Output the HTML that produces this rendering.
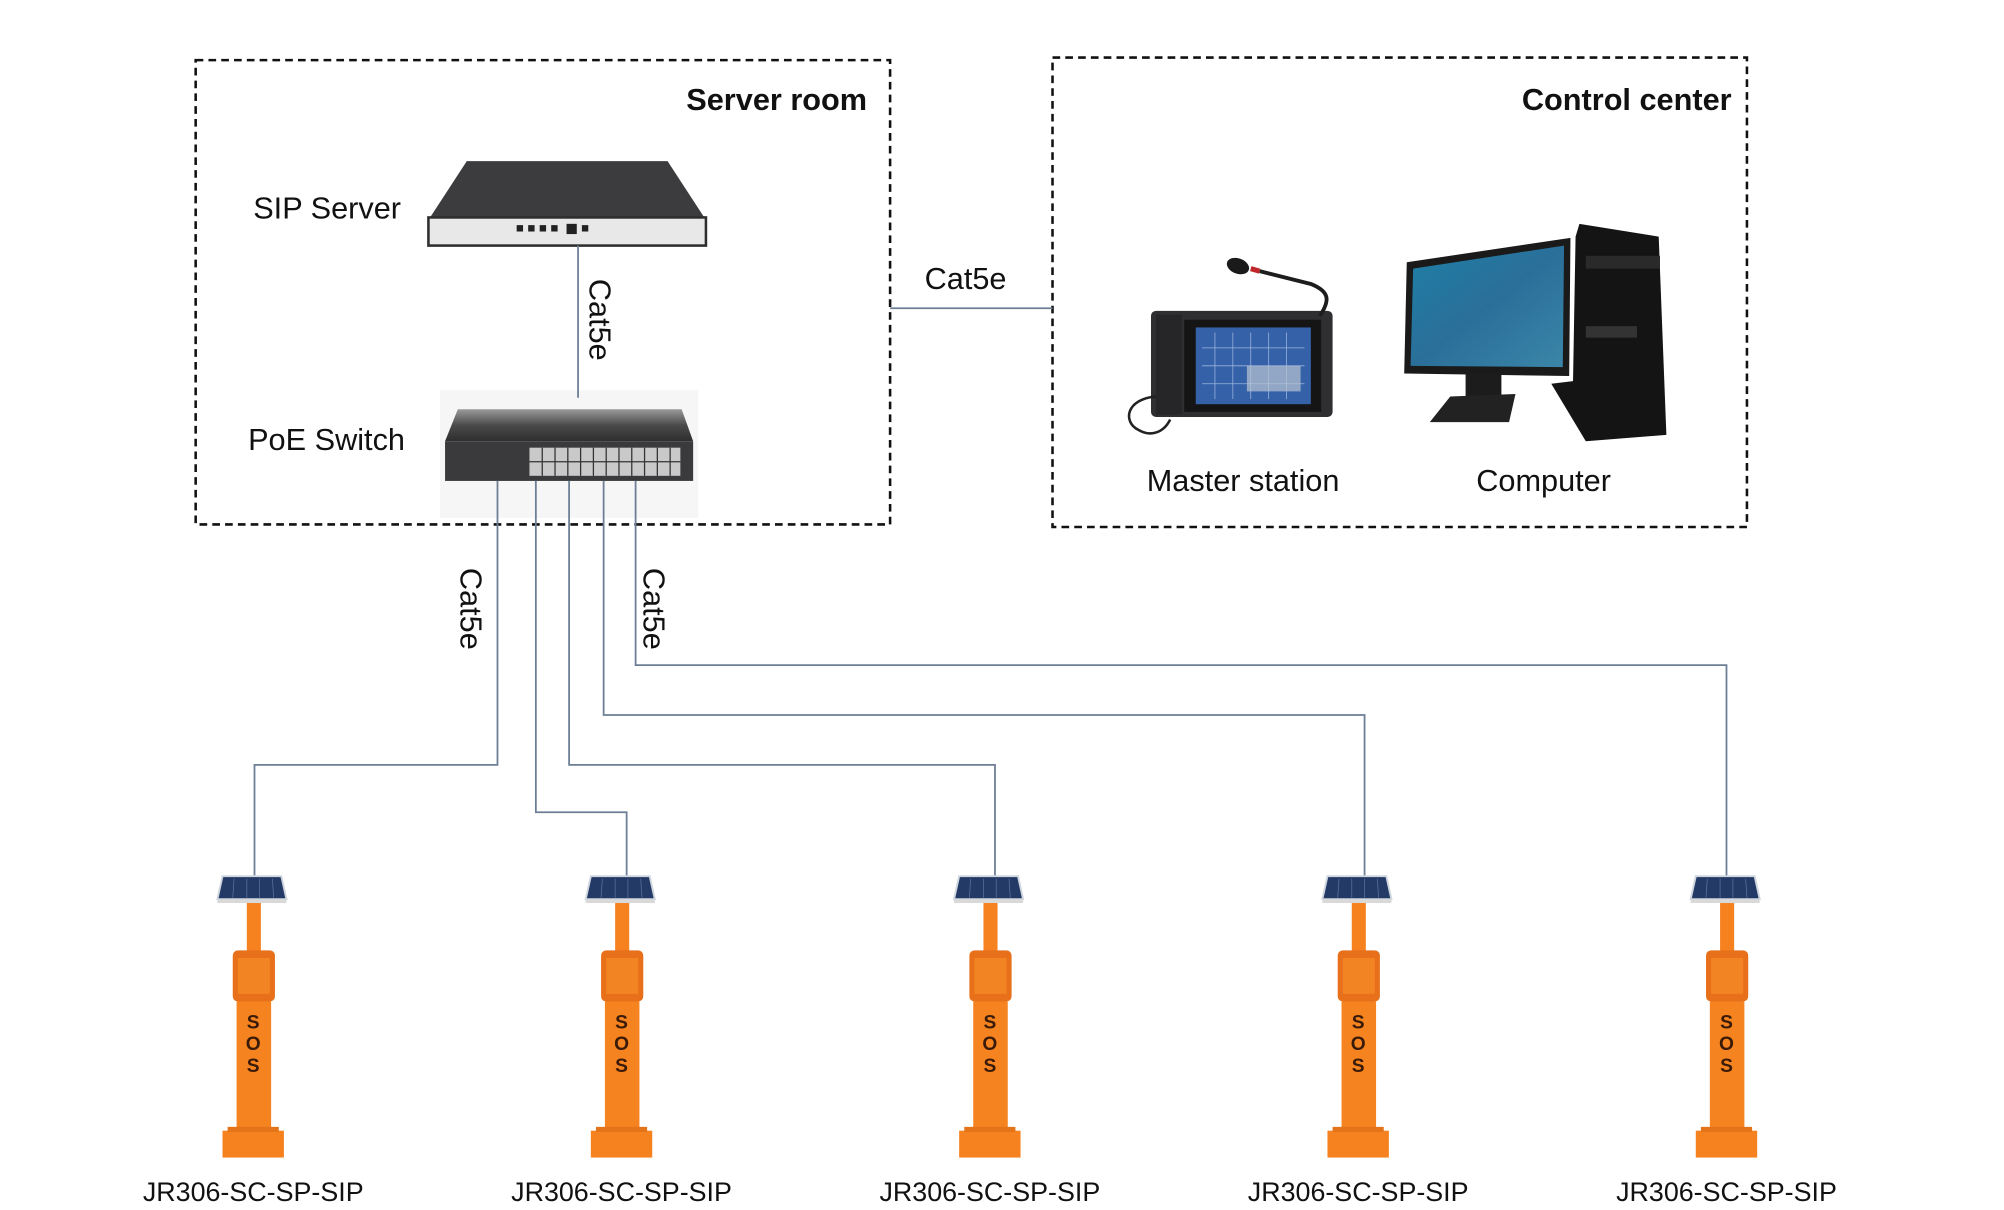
<!DOCTYPE html>
<html><head><meta charset="utf-8"><style>
html,body{margin:0;padding:0;background:#fff}
svg{display:block}
text{font-family:"Liberation Sans",Arial,sans-serif;fill:#111}
</style></head><body>
<svg width="2004" height="1210" viewBox="0 0 1567 946" preserveAspectRatio="none" xmlns="http://www.w3.org/2000/svg">
<defs>
<linearGradient id="sw" x1="0" y1="0" x2="0" y2="1"><stop offset="0" stop-color="#9a9a9a"/><stop offset="0.5" stop-color="#4a4a4a"/><stop offset="1" stop-color="#2e2e2e"/></linearGradient>
<linearGradient id="scr" x1="0" y1="0" x2="1" y2="1"><stop offset="0" stop-color="#1e7fa6"/><stop offset="0.5" stop-color="#2a6f9a"/><stop offset="1" stop-color="#3b86a8"/></linearGradient>
<g id="kiosk">
<polygon points="-24,0 22,0 26,18 -28,18" fill="#243a66" stroke="#cfd6de" stroke-width="1.5"/>
<line x1="-15" y1="2" x2="-16" y2="17" stroke="#5a6f99" stroke-width="0.6"/>
<line x1="-5" y1="2" x2="-5" y2="17" stroke="#5a6f99" stroke-width="0.6"/>
<line x1="5" y1="2" x2="5" y2="17" stroke="#5a6f99" stroke-width="0.6"/>
<line x1="15" y1="2" x2="16" y2="17" stroke="#5a6f99" stroke-width="0.6"/>
<rect x="-28" y="18" width="54" height="3" fill="#d9d9d9"/>
<rect x="-5" y="21" width="11" height="40" fill="#f5811f"/>
<rect x="-16" y="58" width="33" height="40" rx="4" fill="#e8701a"/>
<rect x="-12" y="64" width="25" height="28" fill="#f38423"/>
<rect x="-13" y="98" width="27" height="103" fill="#f5831f"/>
<rect x="-24" y="199" width="48" height="21" fill="#f5811f"/>
<rect x="-20" y="196" width="40" height="4" fill="#e37419"/>
</g>
</defs>

<rect x="153" y="47" width="543" height="363" fill="none" stroke="#111" stroke-width="2" stroke-dasharray="6,4"/>
<rect x="823" y="45" width="543" height="367" fill="none" stroke="#111" stroke-width="2" stroke-dasharray="6,4"/>
<text x="678" y="86" text-anchor="end" font-size="24" font-weight="bold">Server room</text>
<text x="1354" y="86" text-anchor="end" font-size="24" font-weight="bold">Control center</text>

<polygon points="365,126 522,126 552,172 335,172" fill="#3c3c3e"/>
<rect x="335" y="170" width="217" height="22" fill="#e8e8e8" stroke="#2e2e2e" stroke-width="2"/>
<g fill="#222"><rect x="404" y="176" width="5" height="5"/><rect x="413" y="176" width="5" height="5"/><rect x="422" y="176" width="5" height="5"/><rect x="431" y="176" width="5" height="5"/><rect x="443" y="175" width="8" height="8"/><rect x="455" y="176" width="5" height="5"/></g>
<text x="198" y="171" font-size="24">SIP Server</text>

<rect x="344" y="305" width="202" height="100" fill="#f6f6f6"/>
<polygon points="358,320 533,320 542,345 348,345" fill="url(#sw)"/>
<rect x="348" y="345" width="194" height="31" fill="#3a3a3c"/>
<rect x="414" y="350" width="118" height="22" fill="#c9c9c9"/>
<g stroke="#333" stroke-width="1">
<line x1="414" y1="361" x2="532" y2="361"/>
<line x1="424" y1="350" x2="424" y2="372"/><line x1="434" y1="350" x2="434" y2="372"/><line x1="444" y1="350" x2="444" y2="372"/><line x1="454" y1="350" x2="454" y2="372"/><line x1="464" y1="350" x2="464" y2="372"/><line x1="474" y1="350" x2="474" y2="372"/><line x1="484" y1="350" x2="484" y2="372"/><line x1="494" y1="350" x2="494" y2="372"/><line x1="504" y1="350" x2="504" y2="372"/><line x1="514" y1="350" x2="514" y2="372"/><line x1="524" y1="350" x2="524" y2="372"/>
</g>
<text x="194" y="352" font-size="24">PoE Switch</text>

<g fill="none" stroke="#6d7f96" stroke-width="1.4">
<line x1="452" y1="192" x2="452" y2="311"/>
<line x1="696" y1="241" x2="823" y2="241"/>
<polyline points="389,376 389,598 199,598 199,685"/>
<polyline points="419,376 419,635 490,635 490,685"/>
<polyline points="445,376 445,598 778,598 778,685"/>
<polyline points="472,376 472,559 1067,559 1067,685"/>
<polyline points="497,376 497,520 1350,520 1350,685"/>
</g>
<text x="723" y="226" font-size="24">Cat5e</text>
<text transform="translate(461,218) rotate(90)" font-size="24">Cat5e</text>
<text transform="translate(360,444) rotate(90)" font-size="24">Cat5e</text>
<text transform="translate(503,444) rotate(90)" font-size="24">Cat5e</text>

<rect x="900" y="243" width="142" height="83" rx="4" fill="#2f2f31"/>
<rect x="926" y="250" width="107" height="72" fill="#151515"/>
<rect x="935" y="256" width="90" height="60" fill="#3561a8"/>
<g stroke="#9cb5dc" stroke-width="0.6"><line x1="950" y1="260" x2="950" y2="312"/><line x1="964" y1="260" x2="964" y2="312"/><line x1="978" y1="260" x2="978" y2="312"/><line x1="992" y1="260" x2="992" y2="312"/><line x1="1006" y1="260" x2="1006" y2="312"/><line x1="940" y1="272" x2="1020" y2="272"/><line x1="940" y1="286" x2="1020" y2="286"/><line x1="940" y1="300" x2="1020" y2="300"/></g>
<rect x="975" y="286" width="42" height="20" fill="#b9c4d2" opacity="0.7"/>
<rect x="904" y="246" width="20" height="78" fill="#262628"/>
<path d="M1032,247 C1040,235 1040,228 1025,222 L985,212" stroke="#1d1d1d" stroke-width="3" fill="none"/>
<line x1="985" y1="212" x2="978" y2="210" stroke="#c0262a" stroke-width="4"/>
<ellipse cx="968" cy="208" rx="9" ry="6" fill="#1a1a1a" transform="rotate(20 968 208)"/>
<path d="M904,310 C880,312 878,330 890,336 C900,342 910,338 915,328" stroke="#222" stroke-width="2" fill="none"/>
<text x="972" y="384" text-anchor="middle" font-size="24">Master station</text>

<polygon points="1100,205 1228,186 1227,294 1098,292" fill="#1a1a1a"/>
<polygon points="1105,210 1223,192 1222,287 1103,286" fill="url(#scr)"/>
<rect x="1146" y="292" width="28" height="18" fill="#1c1c1c"/>
<polygon points="1134,310 1185,308 1180,330 1118,330" fill="#222"/>
<polygon points="1235,175 1297,185 1303,340 1240,345 1213,300 1230,298 1232,185" fill="#141414"/>
<rect x="1240" y="200" width="58" height="10" fill="#2a2a2a"/>
<rect x="1240" y="255" width="40" height="9" fill="#333"/>
<text x="1207" y="384" text-anchor="middle" font-size="24">Computer</text>

<use href="#kiosk" x="198" y="685"/>
<use href="#kiosk" x="486" y="685"/>
<use href="#kiosk" x="774" y="685"/>
<use href="#kiosk" x="1062" y="685"/>
<use href="#kiosk" x="1350" y="685"/>
<g font-size="15" font-weight="bold" text-anchor="middle">
<text x="198" y="804" style="fill:#3a1a08">S</text><text x="198" y="821" style="fill:#3a1a08">O</text><text x="198" y="838" style="fill:#3a1a08">S</text>
<text x="486" y="804" style="fill:#3a1a08">S</text><text x="486" y="821" style="fill:#3a1a08">O</text><text x="486" y="838" style="fill:#3a1a08">S</text>
<text x="774" y="804" style="fill:#3a1a08">S</text><text x="774" y="821" style="fill:#3a1a08">O</text><text x="774" y="838" style="fill:#3a1a08">S</text>
<text x="1062" y="804" style="fill:#3a1a08">S</text><text x="1062" y="821" style="fill:#3a1a08">O</text><text x="1062" y="838" style="fill:#3a1a08">S</text>
<text x="1350" y="804" style="fill:#3a1a08">S</text><text x="1350" y="821" style="fill:#3a1a08">O</text><text x="1350" y="838" style="fill:#3a1a08">S</text>
</g>
<g font-size="21" text-anchor="middle">
<text x="198" y="939">JR306-SC-SP-SIP</text>
<text x="486" y="939">JR306-SC-SP-SIP</text>
<text x="774" y="939">JR306-SC-SP-SIP</text>
<text x="1062" y="939">JR306-SC-SP-SIP</text>
<text x="1350" y="939">JR306-SC-SP-SIP</text>
</g>
</svg>
</body></html>
